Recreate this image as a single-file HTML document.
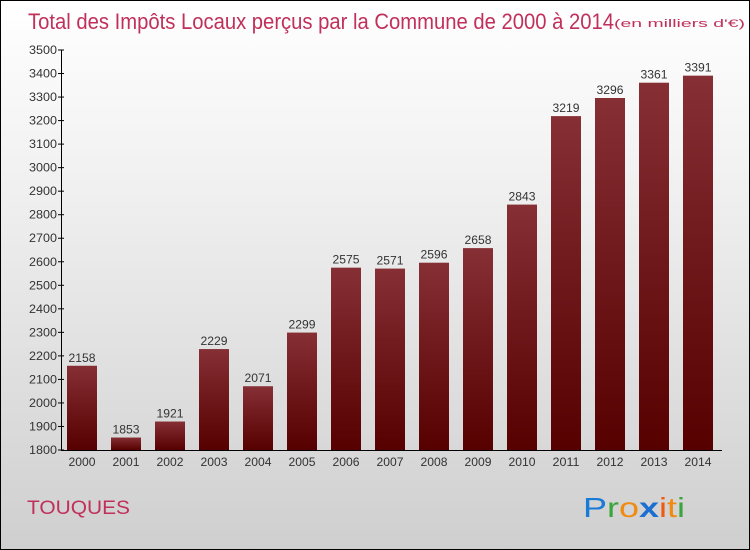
<!DOCTYPE html>
<html><head><meta charset="utf-8"><style>
body{margin:0}
#c{position:relative;width:748px;height:548px;border:1px solid #000;background:linear-gradient(#ffffff,#f2f2f2 30%,#dedede 70%,#cfcfcf);overflow:hidden;font-family:"Liberation Sans",sans-serif}
</style></head><body>
<div id="c">
<svg width="748" height="548" style="position:absolute;left:0;top:0" id="s">
<defs><linearGradient id="bg" x1="0" x2="0" y1="0" y2="1"><stop offset="0" stop-color="#862f35"/><stop offset="1" stop-color="#560000"/></linearGradient></defs>
<text x="27" y="28" font-size="22" fill="#c0305a" textLength="586" lengthAdjust="spacingAndGlyphs">Total des Impôts Locaux perçus par la Commune de 2000 à 2014</text>
<text x="613" y="26" font-size="11" fill="#c0305a" textLength="131" lengthAdjust="spacingAndGlyphs">(en milliers d'€)</text>
<text x="26" y="513" font-size="19" fill="#c0305a" textLength="103" lengthAdjust="spacingAndGlyphs">TOUQUES</text>
<g font-size="28" font-family="Liberation Sans, sans-serif">
<text x="582" y="516" textLength="102" lengthAdjust="spacingAndGlyphs"><tspan fill="#1a7ad8">P</tspan><tspan fill="#3aa53a">r</tspan><tspan fill="#f08a10">o</tspan><tspan fill="#1a6fd0" font-weight="bold">x</tspan><tspan fill="#f05a10">i</tspan><tspan fill="#f08a10">t</tspan><tspan fill="#3aa53a">i</tspan></text></g>
<g id="g"></g>
</svg>
</div>
<script>
const years=["2000","2001","2002","2003","2004","2005","2006","2007","2008","2009","2010","2011","2012","2013","2014"];
const values=[2158,1853,1921,2229,2071,2299,2575,2571,2596,2658,2843,3219,3296,3361,3391];
const ticks=[1800,1900,2000,2100,2200,2300,2400,2500,2600,2700,2800,2900,3000,3100,3200,3300,3400,3500];
const NS="http://www.w3.org/2000/svg";
const g=document.getElementById('g');
const y=v=>449-(v-1800)/1700*400;
const x=i=>66+i*44;
function mk(t,a){const e=document.createElementNS(NS,t);for(const k in a)e.setAttribute(k,a[k]);g.appendChild(e);return e;}
years.forEach((yr,i)=>{
 const r=mk('rect',{x:x(i),y:y(values[i]),width:30,height:449-y(values[i]),fill:'url(#bg)'});
 
 
 const t=mk('text',{x:x(i)+15,y:y(values[i])-4,'text-anchor':'middle','font-size':12,fill:'#333',textLength:27,lengthAdjust:'spacingAndGlyphs'});t.textContent=values[i];
 
 
 const l=mk('text',{x:x(i)+15,y:465,'text-anchor':'middle','font-size':12,fill:'#333',textLength:27,lengthAdjust:'spacingAndGlyphs'});l.textContent=yr;
 
 
});
ticks.forEach(v=>{
 mk('line',{x1:57,x2:63,y1:y(v),y2:y(v),stroke:'#000'});
 const t=mk('text',{x:56,y:y(v)+4,'text-anchor':'end','font-size':12,fill:'#333',textLength:28,lengthAdjust:'spacingAndGlyphs'});t.textContent=v;
 
 
});
const ya=mk('line',{x1:60.5,x2:60.5,y1:49,y2:450,stroke:'#000'});


const xa=mk('line',{x1:60,x2:721,y1:449.5,y2:449.5,stroke:'#000'});


</script>
</body></html>
